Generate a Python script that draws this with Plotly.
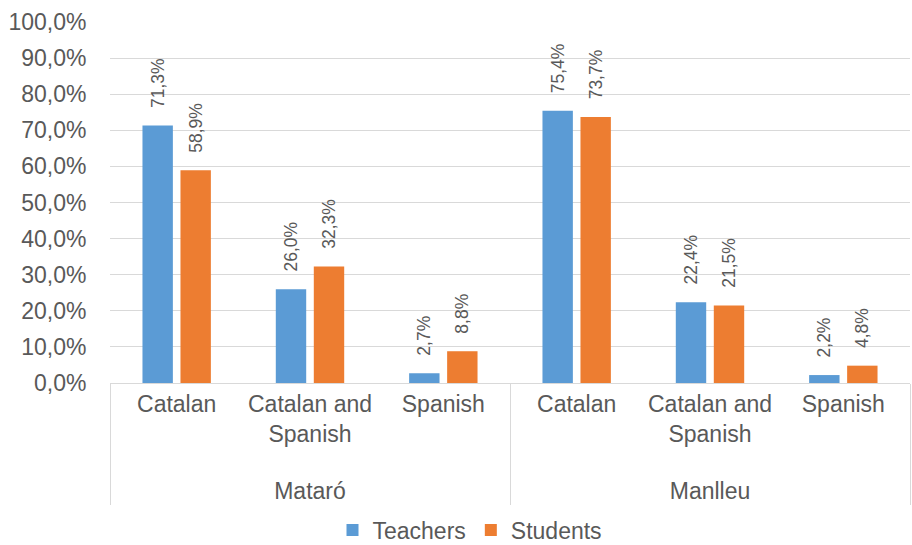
import plotly.graph_objects as go

towns = ["Mataró", "Mataró", "Mataró", "Manlleu", "Manlleu", "Manlleu"]
languages = ["Catalan", "Catalan and<br>Spanish", "Spanish",
             "Catalan", "Catalan and<br>Spanish", "Spanish"]
teachers = [71.3, 26.0, 2.7, 75.4, 22.4, 2.2]
students = [58.9, 32.3, 8.8, 73.7, 21.5, 4.8]
y_ticks = [0, 10, 20, 30, 40, 50, 60, 70, 80, 90, 100]
y_ticktext = [f"{v:.1f}%".replace(".", ",") for v in y_ticks]

FONT = "Liberation Sans, Arial, sans-serif"
GREY = "#595959"

# extra blank line pushes the group label further below the category labels
group_labels = ["<br>" + t for t in towns]

fig = go.Figure()
for name, vals, col in [("Teachers", teachers, "#5B9BD5"),
                        ("Students", students, "#ED7D31")]:
    fig.add_trace(go.Bar(
        name=name, x=[group_labels, languages], y=vals,
        marker=dict(color=col, line=dict(width=0)),
        texttemplate="\u00a0\u00a0\u00a0%{y:.1f}%", textposition="outside",
        textangle=-90, constraintext="none",
        textfont=dict(family=FONT, size=17.5, color=GREY),
        cliponaxis=False,
    ))

fig.update_layout(
    width=912, height=545,
    margin=dict(l=110, r=2, t=22, b=162, autoexpand=False),
    paper_bgcolor="white", plot_bgcolor="white",
    separators=",.",
    barmode="group", bargap=0.43, bargroupgap=0.2,
    font=dict(family=FONT, color=GREY),
    showlegend=True,
    legend=dict(orientation="h", x=0.45, xanchor="center", y=-0.348,
                yanchor="top", font=dict(size=23, color=GREY),
                itemwidth=30, traceorder="normal"),
)
fig.update_yaxes(range=[0, 100], tickvals=y_ticks, ticktext=y_ticktext,
                 showgrid=True, gridcolor="#D9D9D9",
                 gridwidth=1, zeroline=False, showline=False,
                 tickfont=dict(size=23, color=GREY), ticks="outside",
                 ticklen=18, tickcolor="rgba(0,0,0,0)", automargin=False)
fig.update_xaxes(showline=True, linecolor="#D9D9D9", showdividers=True,
                 dividercolor="#D9D9D9", dividerwidth=1,
                 tickfont=dict(size=23, color=GREY), ticks="outside",
                 ticklen=8, tickcolor="rgba(0,0,0,0)", automargin=False)

fig.write_html("out.html")
